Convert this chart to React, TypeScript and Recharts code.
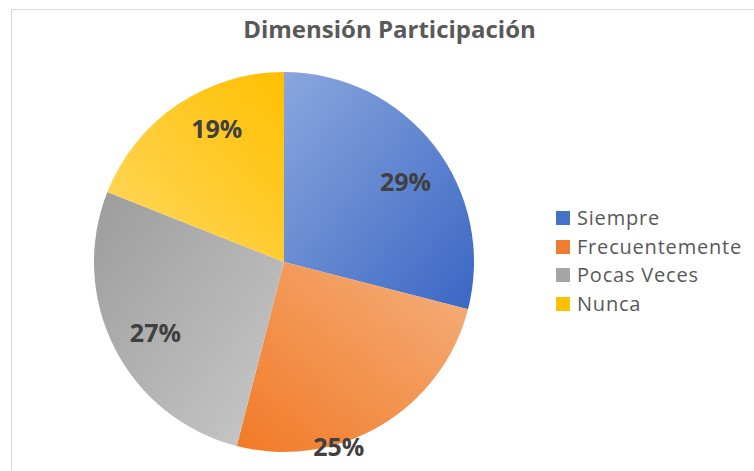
import React from 'react';
import { PieChart, Pie, Cell, Legend } from 'recharts';

const categories = ['Siempre', 'Frecuentemente', 'Pocas Veces', 'Nunca'];
const values = [29, 25, 27, 19];
const labels = ['29%', '25%', '27%', '19%'];

const data = categories.map((name, i) => ({ name, value: values[i], label: labels[i] }));

const gradients = [
  { id: 'g0', x1: 0, y1: 0, x2: 1, y2: 1, from: '#8aa6dd', to: '#3a67c4' },
  { id: 'g1', x1: 1, y1: 0, x2: 0, y2: 1, from: '#f4b07f', to: '#f27a26' },
  { id: 'g2', x1: 0, y1: 0, x2: 1, y2: 1, from: '#9c9c9c', to: '#c9c9c9' },
  { id: 'g3', x1: 1, y1: 0, x2: 0, y2: 1, from: '#ffc000', to: '#ffd862' },
];
const legendColors = ['#4472c4', '#ed7d31', '#a5a5a5', '#ffc000'];
const labelPos = [
  { r: 0.77, da: -4 },
  { r: 1.01, da: -14 },
  { r: 0.77, da: 1.5 },
  { r: 0.79, da: -7.6 },
];

const RAD = Math.PI / 180;

const renderLabel = (props: any) => {
  const { cx, cy, midAngle, outerRadius, index } = props;
  const p = labelPos[index];
  const a = (midAngle + p.da) * RAD;
  const x = cx + outerRadius * p.r * Math.cos(a);
  const y = cy - outerRadius * p.r * Math.sin(a);
  return (
    <text
      x={x}
      y={y}
      textAnchor="middle"
      dominantBaseline="central"
      fill="#404040"
      fontFamily="'Open Sans', sans-serif"
      fontWeight={700}
      fontSize={25}
    >
      {data[index].label}
    </text>
  );
};

const renderLegend = () => (
  <div style={{ fontFamily: "'Open Sans', sans-serif", fontSize: 20, letterSpacing: 0.8, color: '#595959' }}>
    {categories.map((c, i) => (
      <div key={c} style={{ display: 'flex', alignItems: 'center', height: 28.5 }}>
        <span style={{ width: 14, height: 14, background: legendColors[i], display: 'inline-block', marginRight: 7 }} />
        <span style={{ lineHeight: '28px' }}>{c}</span>
      </div>
    ))}
  </div>
);

export default function App() {
  return (
    <div style={{ position: 'absolute', left: 0, top: 0, width: 754, height: 471, background: '#fff', overflow: 'hidden' }}>
      <div style={{ position: 'absolute', left: 11, top: 9, width: 800, height: 500, borderLeft: '1px solid #d9d9d9', borderTop: '1px solid #d9d9d9' }} />
      <div
        style={{
          position: 'absolute',
          left: 11,
          width: 757,
          top: 12,
          textAlign: 'center',
          fontFamily: "'Open Sans', sans-serif",
          fontWeight: 700,
          fontSize: 24,
          color: '#595959',
          lineHeight: '34px',
        }}
      >
        Dimensión Participación
      </div>
      <PieChart
        width={754}
        height={471}
        margin={{ top: 0, right: 0, bottom: 0, left: 0 }}
        style={{ position: 'absolute', left: 0, top: 0 }}
      >
        <defs>
          {gradients.map((g) => (
            <linearGradient key={g.id} id={g.id} x1={g.x1} y1={g.y1} x2={g.x2} y2={g.y2}>
              <stop offset="0%" stopColor={g.from} />
              <stop offset="100%" stopColor={g.to} />
            </linearGradient>
          ))}
        </defs>
        <Pie
          data={data}
          dataKey="value"
          nameKey="name"
          cx={284}
          cy={262}
          outerRadius={190}
          startAngle={90}
          endAngle={-270}
          stroke="none"
          label={renderLabel}
          labelLine={false}
          isAnimationActive={false}
        >
          {data.map((d, i) => (
            <Cell key={d.name} fill={`url(#${gradients[i].id})`} />
          ))}
        </Pie>
        <Legend
          content={renderLegend}
          layout="vertical"
          verticalAlign="top"
          align="right"
          wrapperStyle={{ position: 'absolute', left: 556, top: 204, width: 200 }}
        />
      </PieChart>
    </div>
  );
}
